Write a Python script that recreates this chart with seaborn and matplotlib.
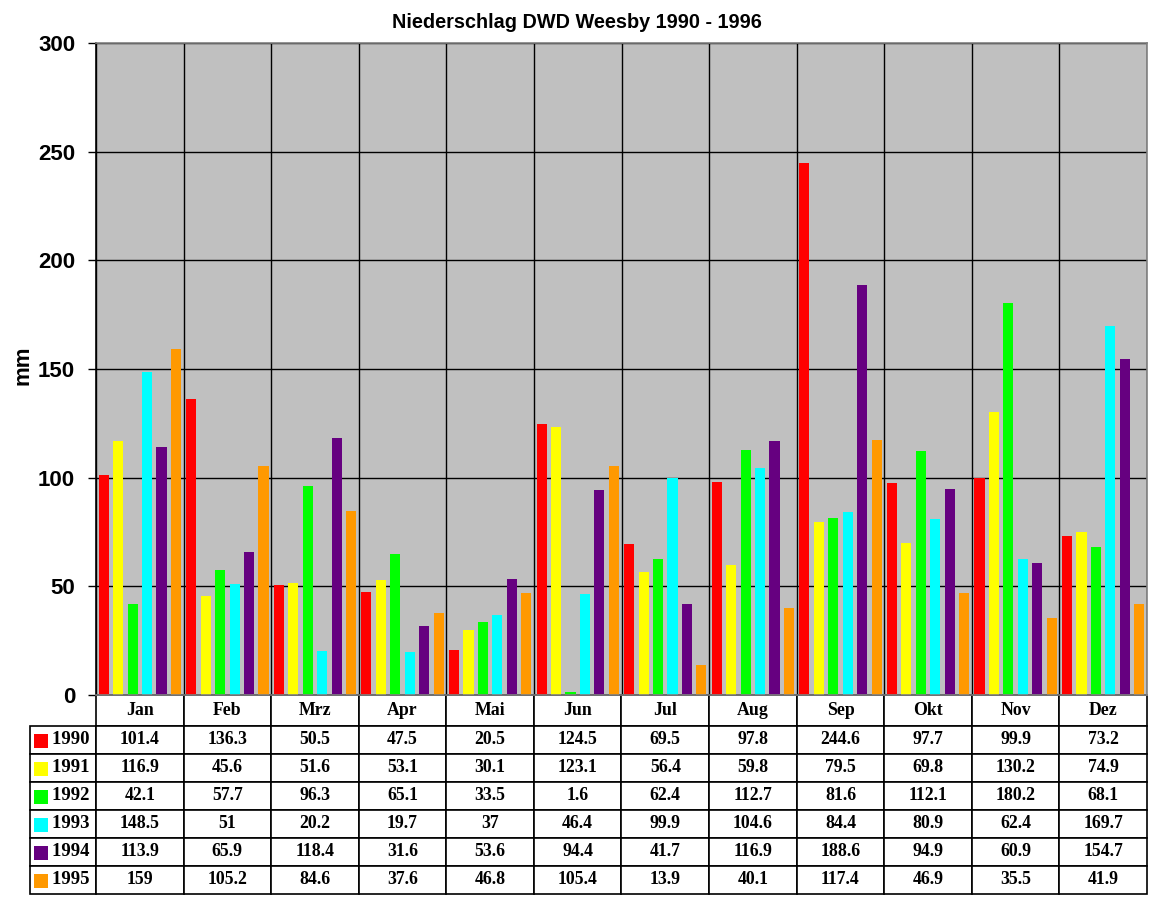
import numpy as np
import pandas as pd
import matplotlib.pyplot as plt
import matplotlib.patches as mpatches
import seaborn as sns

months = ['Jan', 'Feb', 'Mrz', 'Apr', 'Mai', 'Jun', 'Jul', 'Aug', 'Sep', 'Okt', 'Nov', 'Dez']
years = ['1990', '1991', '1992', '1993', '1994', '1995']
colors = ['#FF0000', '#FFFF00', '#00FF00', '#00FFFF', '#660080', '#FF9900']

rain_1990 = [101.4, 136.3, 50.5, 47.5, 20.5, 124.5, 69.5, 97.8, 244.6, 97.7, 99.9, 73.2]
rain_1991 = [116.9, 45.6, 51.6, 53.1, 30.1, 123.1, 56.4, 59.8, 79.5, 69.8, 130.2, 74.9]
rain_1992 = [42.1, 57.7, 96.3, 65.1, 33.5, 1.6, 62.4, 112.7, 81.6, 112.1, 180.2, 68.1]
rain_1993 = [148.5, 51, 20.2, 19.7, 37, 46.4, 99.9, 104.6, 84.4, 80.9, 62.4, 169.7]
rain_1994 = [113.9, 65.9, 118.4, 31.6, 53.6, 94.4, 41.7, 116.9, 188.6, 94.9, 60.9, 154.7]
rain_1995 = [159, 105.2, 84.6, 37.6, 46.8, 105.4, 13.9, 40.1, 117.4, 46.9, 35.5, 41.9]

series = [rain_1990, rain_1991, rain_1992, rain_1993, rain_1994, rain_1995]

rows = []
for year, vals in zip(years, series):
    for m, v in zip(months, vals):
        rows.append({'Monat': m, 'Jahr': year, 'mm': v})
df = pd.DataFrame(rows)

sns.set_style('white')
plt.rcParams['font.family'] = ['Liberation Sans', 'DejaVu Sans']
plt.rcParams['text.color'] = 'black'
plt.rcParams['axes.labelcolor'] = 'black'
plt.rcParams['ytick.color'] = 'black'

fig = plt.figure(figsize=(11.52, 9), dpi=100)
W, H = 1152, 900
ax = fig.add_axes([96 / W, 1 - 695 / H, (1147 - 96) / W, (695 - 43) / H])
ax.set_facecolor('#C0C0C0')

sns.barplot(data=df, x='Monat', y='mm', hue='Jahr', order=months, hue_order=years,
            palette=colors, saturation=1, width=0.99, gap=0.3, legend=False,
            errorbar=None, linewidth=0, edgecolor='none', ax=ax)

ax.set_xlim(-0.5, len(months) - 0.5)
ax.set_ylim(0, 300)
ax.set_yticks(np.arange(0, 301, 50))
ax.yaxis.grid(True, color='black', linewidth=1)
ax.set_xticks(np.arange(len(months) + 1) - 0.5, minor=True)
ax.xaxis.grid(True, which='minor', color='black', linewidth=1)
ax.set_xticks([])
ax.tick_params(axis='x', which='minor', bottom=False)
ax.set_axisbelow(True)
ax.tick_params(axis='y', which='major', left=True, length=6, width=1, color='black',
               labelsize=16, pad=9)
for lab in ax.get_yticklabels():
    lab.set_fontweight('bold')
ax.set_xlabel('')
ax.set_ylabel('mm', fontsize=16, fontweight='bold')
ax.yaxis.set_label_coords((33 - 96) / 1051, 0.505)
for s in ax.spines.values():
    s.set_color('#808080')
    s.set_linewidth(1.2)
ax.spines['left'].set_color('black')

fig.text(577 / W, 1 - 22 / H, 'Niederschlag DWD Weesby 1990 - 1996',
         ha='center', va='center', fontsize=14.3, fontweight='bold')

# data table under the axes
cell_text = [[('%g' % v) for v in vals] for vals in series]
ax_w = 1147 - 96
ax_h = 695 - 43
row_lab_w = 66 / ax_w
tbl = ax.table(cellText=cell_text, rowLabels=['    ' + y for y in years],
               colLabels=months, cellLoc='center', rowLoc='left',
               colWidths=[1 / 12] * 12,
               bbox=[0, -(894 - 695) / ax_h, 1, (894 - 695) / ax_h])
tbl._autoColumns = []
tbl.auto_set_font_size(False)
for (r, c), cell in tbl.get_celld().items():
    cell.set_edgecolor('black')
    cell.set_linewidth(1.2)
    cell.PAD = 0.04
    txt = cell.get_text()
    txt.set_fontfamily(['Liberation Serif', 'DejaVu Serif'])
    txt.set_fontweight('bold')
    if c == -1:
        cell.set_width(row_lab_w)
        txt.set_fontsize(13.5)
    else:
        txt.set_fontsize(12.8)
    if r == 0:
        cell.set_height(cell.get_height() * 31 / 28)

fig.canvas.draw()
inv = fig.transFigure.inverted()
for i, col in enumerate(colors):
    cell = tbl.get_celld()[(i + 1, -1)]
    bb = cell.get_window_extent(fig.canvas.get_renderer())
    x0, y0 = inv.transform((bb.x0 + 4, bb.y0 + bb.height / 2 - 8))
    x1, y1 = inv.transform((bb.x0 + 18, bb.y0 + bb.height / 2 + 6))
    fig.patches.append(mpatches.Rectangle((x0, y0), x1 - x0, y1 - y0,
                                          transform=fig.transFigure,
                                          facecolor=col, edgecolor='none'))

fig.savefig('out.png', dpi=100)
